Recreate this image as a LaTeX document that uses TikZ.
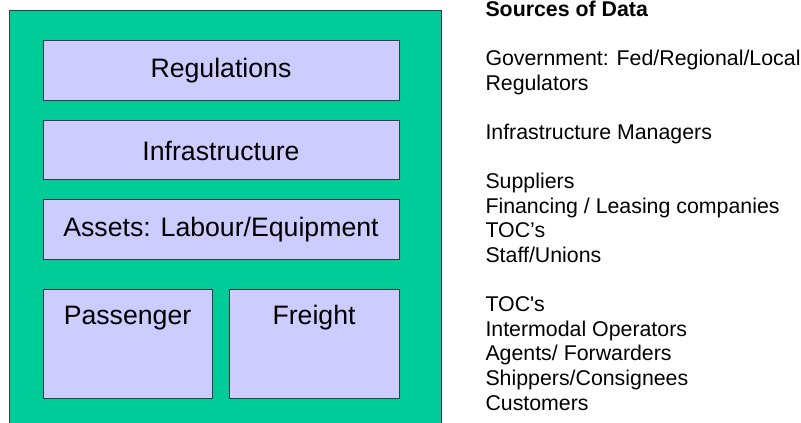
\documentclass[tikz,border=0pt]{standalone}
\usepackage{fontspec}
\setmainfont{Liberation Sans}
\definecolor{railgreen}{RGB}{0,204,153}
\definecolor{boxblue}{RGB}{204,204,255}
\definecolor{edgegray}{RGB}{60,60,60}
\tikzset{every picture/.style={line width=0.75pt}}
\tikzset{
  layerbox/.style={draw=edgegray, fill=boxblue, line width=0.75pt, inner sep=0pt, font=\fontsize{20}{23}\selectfont},
  sourcetext/.style={anchor=north west, inner sep=0pt, align=left, font=\fontsize{16}{18.45}\selectfont}
}

\begin{document}
\begin{tikzpicture}[x=0.75pt,y=0.75pt,yscale=-1,xscale=1]
\useasboundingbox (0,0) rectangle (801,423);

%Rectangle: outer frame
\fill [railgreen] (9,11) rectangle (441,423);
\draw [edgegray] (9,423) -- (9,11) -- (441,11) -- (441,423);

%Layers
\node [layerbox, minimum width=267pt, minimum height=45pt] (regs) at (221,71) {Regulations};
\node [layerbox, minimum width=267pt, minimum height=44.25pt] (infra) at (221,150.5) {Infrastructure};
\node [layerbox, minimum width=267pt, minimum height=45pt] (assets) at (221,230) {Assets: Labour/Equipment};
\node [layerbox, minimum width=126.75pt, minimum height=81.75pt, text depth=44pt] (pax) at (127.5,344.5) {Passenger};
\node [layerbox, minimum width=127.5pt, minimum height=81.75pt, text depth=44pt] (freight) at (314,344.5) {Freight};

% Text Node
\node [sourcetext] (sources) at (485,0.5) {\textbf{Sources of Data}\\[18.45pt]
Government: Fed/Regional/Local\\
Regulators\\[18.45pt]
Infrastructure Managers\\[18.45pt]
Suppliers\\
Financing / Leasing companies\\
TOC’s\\
Staff/Unions\\[18.45pt]
TOC\textquotesingle s\\
Intermodal Operators\\
Agents/ Forwarders\\
Shippers/Consignees\\
Customers};

\end{tikzpicture}
\end{document}
